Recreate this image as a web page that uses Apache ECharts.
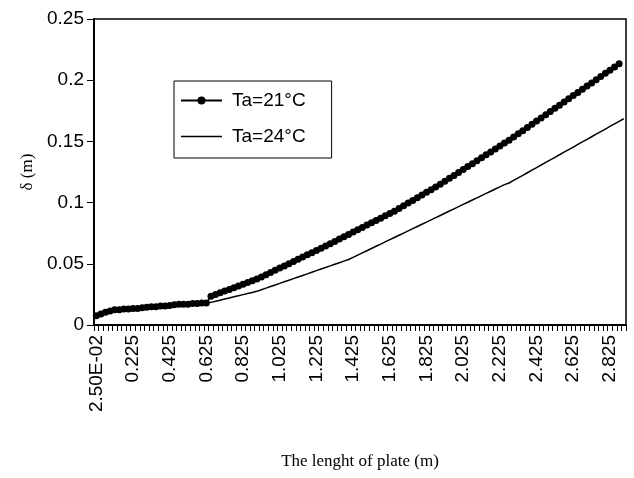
<!DOCTYPE html>
<html>
<head>
<meta charset="utf-8">
<script src="https://cdn.jsdelivr.net/npm/echarts@6/dist/echarts.min.js"></script>
<style>html,body{margin:0;padding:0;background:#fff}#c{width:634px;height:478px}</style>
</head>
<body>
<div id="c"></div>
<script>
var categories = ["2.50E-02","0.05","0.075","0.1","0.125","0.15","0.175","0.2","0.225","0.25","0.275","0.3","0.325","0.35","0.375","0.4","0.425","0.45","0.475","0.5","0.525","0.55","0.575","0.6","0.625","0.65","0.675","0.7","0.725","0.75","0.775","0.8","0.825","0.85","0.875","0.9","0.925","0.95","0.975","1","1.025","1.05","1.075","1.1","1.125","1.15","1.175","1.2","1.225","1.25","1.275","1.3","1.325","1.35","1.375","1.4","1.425","1.45","1.475","1.5","1.525","1.55","1.575","1.6","1.625","1.65","1.675","1.7","1.725","1.75","1.775","1.8","1.825","1.85","1.875","1.9","1.925","1.95","1.975","2","2.025","2.05","2.075","2.1","2.125","2.15","2.175","2.2","2.225","2.25","2.275","2.3","2.325","2.35","2.375","2.4","2.425","2.45","2.475","2.5","2.525","2.55","2.575","2.6","2.625","2.65","2.675","2.7","2.725","2.75","2.775","2.8","2.825","2.85","2.875","2.9"];

var ta21 = [0.0075,0.009,0.0105,0.0115,0.0125,0.0125,0.013,0.013,0.0135,0.0135,0.014,0.0145,0.015,0.015,0.0155,0.0155,0.016,0.0165,0.017,0.017,0.017,0.0175,0.0175,0.018,0.018,
0.0235,0.0249,0.0263,0.0277,0.0291,0.0305,0.0319,0.0333,0.0347,0.0361,0.0375,0.0393,0.0411,0.0429,0.0447,0.0465,0.0483,0.0501,0.0519,0.0537,0.0555,0.0573,0.0591,0.0609,0.0627,
0.0645,0.0664,0.0683,0.0702,0.0721,0.074,0.0759,0.0778,0.0797,0.0816,0.0835,0.0854,0.0873,0.0892,0.0911,0.093,0.0952,0.0974,0.0996,0.1018,0.104,0.1062,0.1084,0.1106,0.1128,
0.115,0.1174,0.1198,0.1222,0.1246,0.127,0.1294,0.1318,0.1342,0.1366,0.139,0.1414,0.1438,0.1462,0.1486,0.151,0.1536,0.1562,0.1588,0.1614,0.164,0.1666,0.1692,0.1718,0.1744,
0.177,0.1796,0.1822,0.1848,0.1874,0.19,0.1926,0.1952,0.1978,0.2004,0.203,0.2056,0.2082,0.2108,0.2134];

var ta24 = [0.0075,0.009,0.0105,0.0115,0.0125,0.0125,0.013,0.013,0.0135,0.0135,0.014,0.0145,0.015,0.015,0.0155,0.0155,0.016,0.0165,0.017,0.017,0.017,0.0175,0.0175,0.018,0.018,
0.0185,0.0194,0.0203,0.0212,0.0221,0.023,0.0239,0.0248,0.0257,0.0266,0.0275,0.0288,0.0301,0.0314,0.0327,0.034,0.0353,0.0366,0.0379,0.0392,0.0405,0.0418,0.0431,0.0444,0.0457,
0.047,0.0483,0.0496,0.0509,0.0522,0.0535,0.0553,0.0571,0.0589,0.0607,0.0625,0.0643,0.0661,0.0679,0.0697,0.0715,0.0733,0.0751,0.0769,0.0787,0.0805,0.0823,0.0841,0.0859,0.0877,
0.0895,0.0913,0.0931,0.0949,0.0967,0.0985,0.1003,0.1021,0.1039,0.1057,0.1075,0.1093,0.1111,0.1129,0.1147,0.116,0.1181,0.1202,0.1223,0.1244,0.1265,0.1286,0.1307,0.1328,0.1349,
0.137,0.1391,0.1412,0.1433,0.1454,0.1475,0.1496,0.1517,0.1538,0.1559,0.158,0.1601,0.1622,0.1643,0.1664,0.1685];

var seriesNames = ["Ta=21°C","Ta=24°C"];
var yTicks = {min:0, max:0.25, interval:0.05};
var xTitle = "The lenght of plate (m)";
var yTitle = "δ (m)";

var chart = echarts.init(document.getElementById('c'), null, {renderer:'canvas'});
chart.setOption({
  animation:false,
  backgroundColor:'#fff',
  grid:{left:94,right:8,top:19,bottom:153,show:true,borderColor:'#000',borderWidth:1.5,backgroundColor:'transparent'},
  legend:{
    left:174, top:81, orient:'vertical',
    data:[{name:seriesNames[0]},{name:seriesNames[1], icon:'path://M0,0H41V1.6H0Z'}],
    symbolKeepAspect:true,
    backgroundColor:'#fff', borderColor:'#000', borderWidth:1,
    padding:[10,26,12,6], itemGap:17, itemWidth:41, itemHeight:10,
    textStyle:{fontFamily:'Liberation Sans, Arial', fontSize:19, color:'#000', padding:[0,0,0,5]}
  },
  xAxis:{
    type:'category', data:categories, boundaryGap:true,
    name:xTitle, nameLocation:'middle', nameGap:128,
    nameTextStyle:{fontFamily:'Liberation Serif, Times New Roman', fontSize:17, color:'#000'},
    axisLine:{lineStyle:{color:'#000',width:2}},
    axisTick:{show:true, interval:0, length:6, lineStyle:{color:'#000',width:1}},
    axisLabel:{interval:7, rotate:90, margin:10, fontFamily:'Liberation Sans, Arial', fontSize:19, color:'#000'},
    splitLine:{show:false}
  },
  yAxis:{
    type:'value', min:yTicks.min, max:yTicks.max, interval:yTicks.interval,
    name:yTitle, nameLocation:'middle', nameGap:48, nameRotate:90,
    nameTextStyle:{fontFamily:'Liberation Serif, Times New Roman', fontSize:17, color:'#000'},
    axisLine:{show:true, lineStyle:{color:'#000',width:2}},
    axisTick:{show:true, length:7, lineStyle:{color:'#000',width:1}},
    axisLabel:{margin:10, fontFamily:'Liberation Sans, Arial', fontSize:19, color:'#000',
      formatter:function(v){return String(+v.toFixed(2));}},
    splitLine:{show:false}
  },
  series:[
    {name:seriesNames[1], type:'line', data:ta24, symbol:'none', z:2,
     lineStyle:{color:'#000',width:1.5}, itemStyle:{color:'#000'}},
    {name:seriesNames[0], type:'line', data:ta21, symbol:'circle', symbolSize:7, showAllSymbol:true, z:3,
     lineStyle:{color:'#000',width:1.5}, itemStyle:{color:'#000'}}
  ]
});
</script>
</body>
</html>
